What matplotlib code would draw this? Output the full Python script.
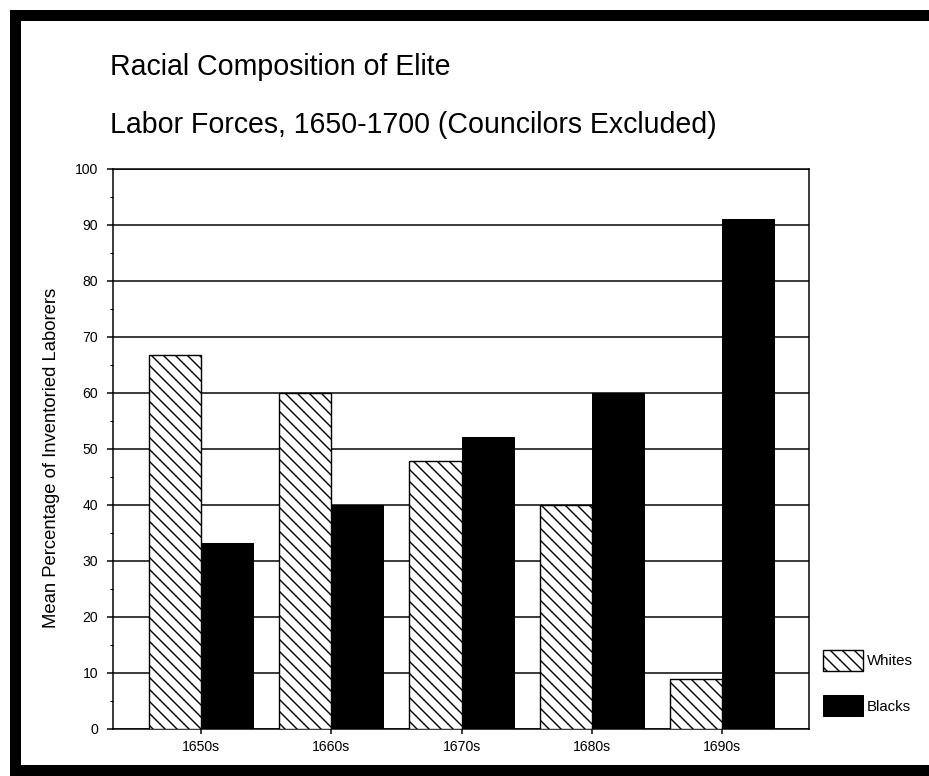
import matplotlib
matplotlib.use("Agg")
import matplotlib.pyplot as plt
from matplotlib.patches import Rectangle, Patch
from matplotlib.ticker import MultipleLocator

# data
decades = ["1650s", "1660s", "1670s", "1680s", "1690s"]
whites = [66.7, 60, 47.8, 40, 9]
blacks = [33.3, 40, 52.2, 60, 91]
series_names = ["Whites", "Blacks"]

W, H = 929, 776
plt.rcParams['font.family'] = ['Liberation Sans', 'DejaVu Sans']
plt.rcParams['hatch.linewidth'] = 1.4
plt.rcParams['hatch.color'] = 'black'

fig = plt.figure(figsize=(W / 72, H / 72), dpi=72)
fig.patch.set_facecolor('white')

def px(x0, y0, x1, y1):
    # pixel box (top-left origin) -> figure fraction rect
    return [x0 / W, 1 - y1 / H, (x1 - x0) / W, (y1 - y0) / H]

ax = fig.add_axes(px(113, 169, 809, 729))

bar_w = 0.4
xs = list(range(len(decades)))
ax.bar([x - bar_w / 2 for x in xs], whites, width=bar_w, facecolor='white',
       edgecolor='black', hatch='\\\\', linewidth=1.4, zorder=3)
ax.bar([x + bar_w / 2 for x in xs], blacks, width=bar_w, facecolor='black',
       edgecolor='black', linewidth=1.0, zorder=3)

ax.set_xlim(-0.675, 4.666)
ax.set_ylim(0, 100)
ax.set_xticks(xs)
ax.set_xticklabels(decades, fontsize=14)
ax.yaxis.set_major_locator(MultipleLocator(10))
ax.yaxis.set_minor_locator(MultipleLocator(5))
ax.tick_params(axis='y', which='major', labelsize=14, length=6, width=1.5, pad=9, direction='out')
ax.tick_params(axis='y', which='minor', length=3, width=1.0, direction='out')
ax.tick_params(axis='x', which='major', length=5, width=1.5, pad=6, direction='out')
ax.yaxis.grid(True, which='major', color='black', linewidth=1.5, zorder=1)
ax.set_axisbelow(True)
for s in ax.spines.values():
    s.set_linewidth(1.5)
    s.set_color('black')

fig.text(52 / W, 1 - 458 / H, "Mean Percentage of Inventoried Laborers", rotation=90,
         fontsize=18.5, ha='center', va='center')

# titles
fig.text(110 / W, 1 - 67 / H, "Racial Composition of Elite", fontsize=28.5,
         ha='left', va='center')
fig.text(110 / W, 1 - 125 / H, "Labor Forces, 1650-1700 (Councilors Excluded)", fontsize=28.5,
         ha='left', va='center')

# legend
handles = [Patch(facecolor='white', edgecolor='black', hatch='\\\\', linewidth=1.4),
           Patch(facecolor='black', edgecolor='black')]
fig.legend(handles, series_names, loc='upper left', bbox_to_anchor=(823 / W, 1 - 650 / H),
           frameon=False, fontsize=15, handlelength=40 / 15, handleheight=27 / 15,
           handletextpad=0.25, labelspacing=1.6, borderpad=0, borderaxespad=0)

# thick black frame round the figure (right side cut off in the scan)
for box in [(10, 10, W, 21), (10, 10, 21, H), (10, 765, W, H)]:
    fig.add_artist(Rectangle(px(*box)[:2], px(*box)[2], px(*box)[3],
                             transform=fig.transFigure, facecolor='black',
                             edgecolor='none'))

fig.savefig("out.png", dpi=72)
